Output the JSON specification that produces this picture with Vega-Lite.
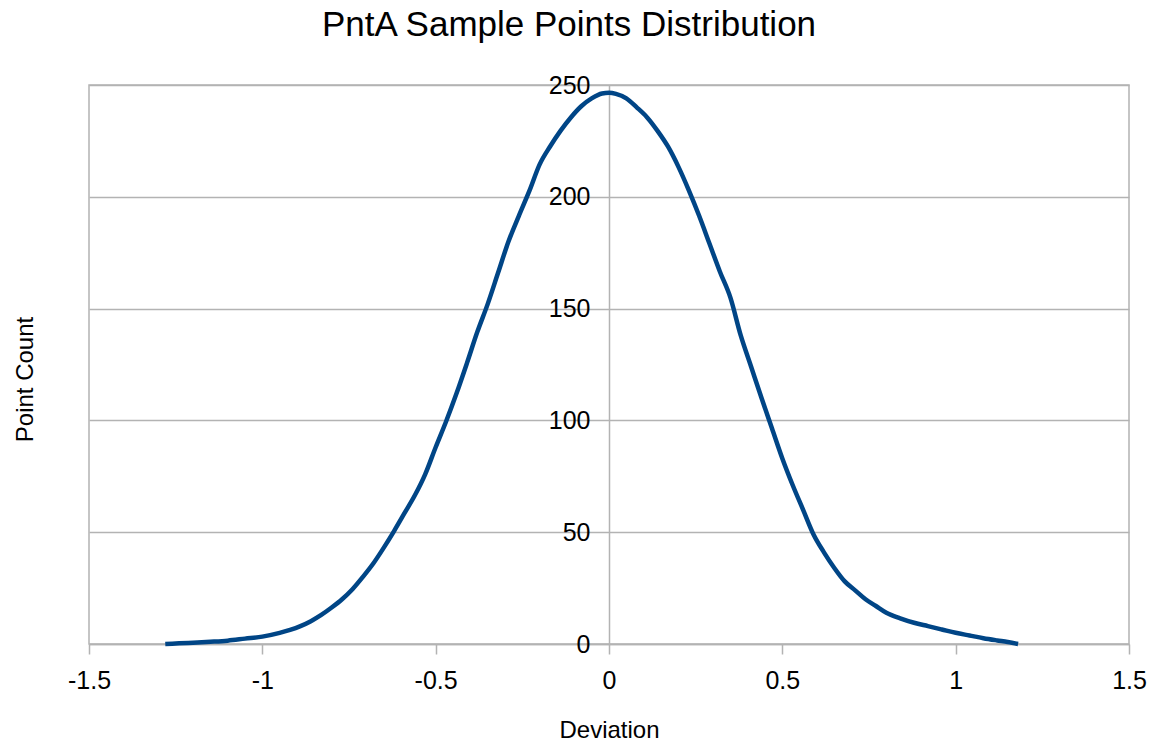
{
  "$schema": "https://vega.github.io/schema/vega-lite/v6.json",
  "autosize": {"type": "none"},
  "padding": {"left": 89, "top": 85, "right": 23, "bottom": 99},
  "width": 1040,
  "height": 559,
  "background": "white",
  "title": {"text": "PntA Sample Points Distribution", "font": "Liberation Sans", "fontSize": 35, "fontWeight": "normal", "color": "black", "anchor": "middle", "offset": 30, "dx": -40},
  "config": {"view": {"stroke": "#b3b3b3", "strokeWidth": 1.5}, "font": "Liberation Sans"},
  "data": {"values": [
    {"deviation": -1.28, "count": 0},
    {"deviation": -1.24, "count": 0.3},
    {"deviation": -1.2, "count": 0.6},
    {"deviation": -1.15, "count": 1.0},
    {"deviation": -1.1, "count": 1.5},
    {"deviation": -1.05, "count": 2.4},
    {"deviation": -1.0, "count": 3.3},
    {"deviation": -0.95, "count": 5.0},
    {"deviation": -0.92, "count": 6.3},
    {"deviation": -0.89, "count": 8.0},
    {"deviation": -0.86, "count": 10.2},
    {"deviation": -0.83, "count": 13.0},
    {"deviation": -0.8, "count": 16.3},
    {"deviation": -0.77, "count": 20.0},
    {"deviation": -0.74, "count": 24.5},
    {"deviation": -0.71, "count": 30},
    {"deviation": -0.68, "count": 36},
    {"deviation": -0.65, "count": 43},
    {"deviation": -0.62, "count": 50.5},
    {"deviation": -0.59, "count": 58.5},
    {"deviation": -0.56, "count": 66.5},
    {"deviation": -0.53, "count": 76},
    {"deviation": -0.5, "count": 88},
    {"deviation": -0.47, "count": 99.5},
    {"deviation": -0.44, "count": 112},
    {"deviation": -0.41, "count": 125.5},
    {"deviation": -0.38, "count": 139.5},
    {"deviation": -0.35, "count": 152},
    {"deviation": -0.32, "count": 166},
    {"deviation": -0.29, "count": 180},
    {"deviation": -0.26, "count": 191.5},
    {"deviation": -0.23, "count": 202.5},
    {"deviation": -0.2, "count": 214.5},
    {"deviation": -0.17, "count": 222.5},
    {"deviation": -0.14, "count": 229.5},
    {"deviation": -0.11, "count": 235.5},
    {"deviation": -0.08, "count": 240.5},
    {"deviation": -0.05, "count": 244},
    {"deviation": -0.02, "count": 246.2},
    {"deviation": 0.0, "count": 246.5},
    {"deviation": 0.02, "count": 246},
    {"deviation": 0.05, "count": 244},
    {"deviation": 0.08, "count": 240},
    {"deviation": 0.11, "count": 235.5},
    {"deviation": 0.14, "count": 229.5},
    {"deviation": 0.17, "count": 222.5},
    {"deviation": 0.2, "count": 213.5},
    {"deviation": 0.23, "count": 203},
    {"deviation": 0.26, "count": 191.5},
    {"deviation": 0.29, "count": 179},
    {"deviation": 0.32, "count": 166.5},
    {"deviation": 0.35, "count": 155},
    {"deviation": 0.38, "count": 138},
    {"deviation": 0.41, "count": 124},
    {"deviation": 0.44, "count": 110},
    {"deviation": 0.47, "count": 96.5},
    {"deviation": 0.5, "count": 83},
    {"deviation": 0.53, "count": 71},
    {"deviation": 0.56, "count": 60},
    {"deviation": 0.59, "count": 49},
    {"deviation": 0.62, "count": 41},
    {"deviation": 0.65, "count": 34},
    {"deviation": 0.68, "count": 28},
    {"deviation": 0.71, "count": 24},
    {"deviation": 0.74, "count": 20},
    {"deviation": 0.77, "count": 17},
    {"deviation": 0.8, "count": 14},
    {"deviation": 0.84, "count": 11.5},
    {"deviation": 0.88, "count": 9.5},
    {"deviation": 0.92, "count": 8},
    {"deviation": 0.96, "count": 6.5},
    {"deviation": 1.0, "count": 5},
    {"deviation": 1.04, "count": 3.8},
    {"deviation": 1.08, "count": 2.6},
    {"deviation": 1.12, "count": 1.6},
    {"deviation": 1.15, "count": 0.9},
    {"deviation": 1.18, "count": 0}
  ]},
  "mark": {"type": "line", "color": "#004586", "strokeWidth": 4.5, "clip": false, "interpolate": "monotone"},
  "encoding": {
    "x": {
      "field": "deviation", "type": "quantitative",
      "scale": {"domain": [-1.5, 1.5], "nice": false, "zero": false},
      "axis": {
        "title": "Deviation", "values": [-1.5, -1, -0.5, 0, 0.5, 1, 1.5],
        "labelExpr": "toString(datum.value)", "grid": false,
        "domainColor": "#b3b3b3", "domainWidth": 1.5,
        "tickColor": "#b3b3b3", "tickWidth": 1.5, "tickSize": 10,
        "labelFont": "Liberation Sans", "labelFontSize": 25, "labelColor": "black", "labelPadding": 14,
        "labelFlush": false, "labelOverlap": false,
        "titleFont": "Liberation Sans", "titleFontSize": 24, "titleFontWeight": "normal", "titleColor": "black", "titlePadding": 25,
        "zindex": 0
      }
    },
    "y": {
      "field": "count", "type": "quantitative",
      "scale": {"domain": [0, 250], "nice": false},
      "axis": {
        "title": "Point Count", "values": [0, 50, 100, 150, 200, 250],
        "offset": -520, "grid": true, "gridColor": "#b3b3b3", "gridWidth": 1.5,
        "domainColor": "#b3b3b3", "domainWidth": 1.5, "ticks": false,
        "labelFont": "Liberation Sans", "labelFontSize": 25, "labelColor": "black", "labelPadding": 19,
        "labelFlush": false, "labelOverlap": false,
        "titleFont": "Liberation Sans", "titleFontSize": 24, "titleFontWeight": "normal", "titleColor": "black",
        "titleX": -572, "titleY": 294,
        "zindex": 0
      }
    }
  }
}
